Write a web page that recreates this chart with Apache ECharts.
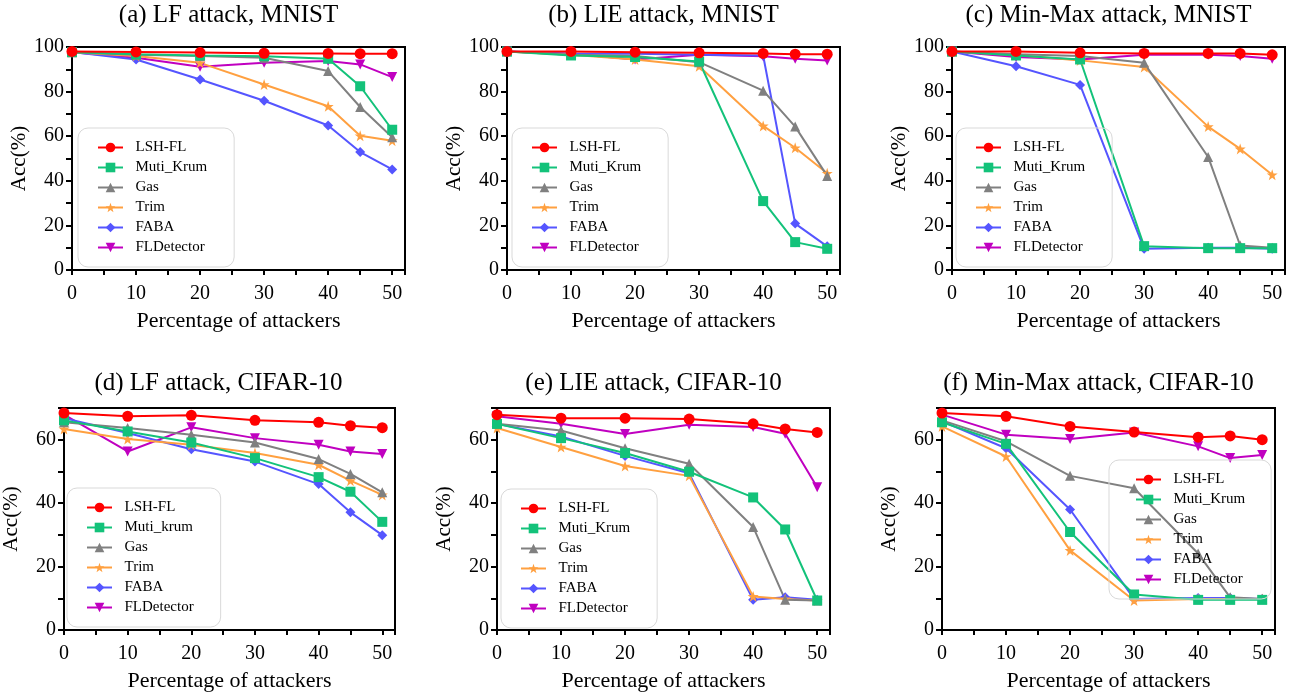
<!DOCTYPE html>
<html>
<head>
<meta charset="utf-8">
<script src="https://cdn.jsdelivr.net/npm/echarts@6/dist/echarts.min.js"></script>
<style>
  html, body { margin: 0; padding: 0; background: #fff; }
  #chart { width: 1308px; height: 700px; }
</style>
</head>
<body>
<div id="chart"></div>
<script>
// x positions (percentage of attackers)
const xVals = [0, 10, 20, 30, 40, 45, 50];

// series names, in legend order
const names = ['LSH-FL', 'Muti_Krum', 'Gas', 'Trim', 'FABA', 'FLDetector'];
const namesLfCifar = ['LSH-FL', 'Muti_krum', 'Gas', 'Trim', 'FABA', 'FLDetector'];

// panel titles
const titles = [
    '(a) LF attack, MNIST', '(b) LIE attack, MNIST', '(c) Min-Max attack, MNIST',
    '(d) LF attack, CIFAR-10', '(e) LIE attack, CIFAR-10', '(f) Min-Max attack, CIFAR-10'
];

// accuracy values, one row per series (LSH-FL, Krum, Gas, Trim, FABA, FLDetector)
const lfMnist = [
    [98.0, 97.8, 97.5, 97.2, 97.1, 97.0, 97.0],
    [97.7, 96.7, 96.2, 95.9, 94.7, 82.4, 62.9],
    [97.7, 96.5, 96.0, 95.2, 89.2, 73.1, 59.5],
    [97.7, 96.0, 92.9, 83.2, 73.4, 60.2, 58.0],
    [97.7, 94.4, 85.4, 75.9, 64.8, 52.9, 45.1],
    [97.7, 95.2, 91.1, 92.9, 93.7, 92.2, 86.5]
];
const lieMnist = [
    [98.0, 98.0, 97.7, 97.4, 97.1, 96.8, 96.8],
    [98.0, 96.2, 95.5, 93.5, 30.9, 12.5, 9.5],
    [98.0, 96.5, 96.0, 93.2, 80.4, 64.3, 42.2],
    [98.0, 96.5, 94.4, 91.4, 64.6, 54.8, 43.4],
    [98.0, 97.0, 97.0, 96.5, 96.2, 20.8, 10.6],
    [98.0, 97.0, 94.4, 96.5, 95.8, 94.7, 94.0]
];
const mmMnist = [
    [98.0, 98.0, 97.4, 97.1, 97.1, 97.1, 96.5],
    [98.0, 96.2, 94.4, 10.7, 9.8, 9.8, 9.8],
    [98.0, 96.7, 96.0, 92.9, 50.7, 11.0, 10.0],
    [98.0, 96.4, 94.0, 91.0, 64.3, 54.3, 42.7],
    [98.0, 91.4, 83.0, 9.5, 10.0, 10.0, 9.5],
    [98.0, 95.5, 94.4, 96.5, 96.5, 96.0, 94.7]
];
const lfCifar = [
    [68.4, 67.4, 67.7, 66.1, 65.5, 64.4, 63.8],
    [66.1, 62.6, 59.1, 54.2, 48.2, 43.6, 34.1],
    [65.5, 63.7, 61.6, 59.1, 53.9, 49.2, 43.4],
    [63.4, 60.2, 58.4, 55.8, 52.1, 47.1, 42.6],
    [66.8, 62.1, 57.0, 53.1, 46.0, 37.1, 29.9],
    [67.9, 56.3, 63.9, 60.5, 58.4, 56.3, 55.5]
];
const lieCifar = [
    [67.9, 66.8, 66.8, 66.5, 65.0, 63.4, 62.3],
    [65.0, 60.5, 55.8, 49.9, 41.8, 31.7, 9.3],
    [65.0, 62.9, 57.3, 52.4, 32.5, 9.5, 9.3],
    [63.7, 57.7, 51.7, 48.6, 10.6, 9.8, 9.3],
    [65.0, 61.0, 54.9, 49.4, 9.5, 10.3, 9.5],
    [67.4, 65.0, 61.8, 64.7, 64.0, 61.9, 45.0]
];
const mmCifar = [
    [68.4, 67.4, 64.2, 62.4, 60.8, 61.2, 60.0],
    [65.5, 58.7, 30.9, 11.2, 9.5, 9.5, 9.5],
    [66.1, 59.5, 48.6, 44.7, 24.1, 10.3, 9.8],
    [64.2, 54.7, 25.1, 9.3, 9.8, 9.8, 9.8],
    [65.8, 57.3, 38.0, 9.8, 10.1, 10.1, 9.8],
    [67.9, 61.6, 60.2, 62.3, 57.9, 54.2, 55.2]
];

const yMaxMnist = 100;
const yMaxCifar = 70;

const SERIF = 'Liberation Serif, Times New Roman, serif';
const colors = ['#ff0000', '#13c27a', '#808080', '#ffa040', '#5555ff', '#c000c0'];
const symbols = [
    'circle', 'rect', 'triangle',
    'path://M5,0 L6.2,3.6 L10,3.6 L7,5.9 L8.1,9.5 L5,7.3 L1.9,9.5 L3,5.9 L0,3.6 L3.8,3.6 Z',
    'diamond',
    'path://M0,0 L10,0 L5,9 Z'
];
const symSizes = [11, 10, 10, 11, 10, 10];

const panels = [
    {data: lfMnist, names: names, yMax: yMaxMnist, left: 72, top: 47, h: 223, leg: [78, 128, 19, 27]},
    {data: lieMnist, names: names, yMax: yMaxMnist, left: 507, top: 47, h: 223, leg: [512, 128, 19, 27]},
    {data: mmMnist, names: names, yMax: yMaxMnist, left: 952, top: 47, h: 223, leg: [956, 128, 19, 27]},
    {data: lfCifar, names: namesLfCifar, yMax: yMaxCifar, left: 62, top: 408, h: 222, leg: [67, 488, 19, 27]},
    {data: lieCifar, names: names, yMax: yMaxCifar, left: 497, top: 408, h: 222, leg: [501, 489, 19, 27]},
    {data: mmCifar, names: names, yMax: yMaxCifar, left: 942, top: 408, h: 222, leg: [1109, 460, 26, 26]}
];

const PLOT_W = 333;
const grids = [], xAxes = [], yAxes = [], legends = [], series = [], graphics = [];

panels.forEach(function (p, pi) {
    grids.push({
        left: p.left, top: p.top, width: PLOT_W, height: p.h,
        show: true, borderColor: '#000', borderWidth: 2
    });
    xAxes.push({
        gridIndex: pi, type: 'value', min: 0, max: 52, interval: 5,
        axisLine: {show: true, onZero: false, lineStyle: {color: '#000', width: 2}},
        axisTick: {show: true, length: 5, lineStyle: {color: '#000', width: 2}},
        axisLabel: {
            margin: 14, fontSize: 20, fontFamily: SERIF, color: '#000',
            formatter: function (v) { return (v % 10 === 0 && v <= 50) ? String(v) : ''; }
        },
        splitLine: {show: false},
        name: 'Percentage of attackers', nameLocation: 'middle', nameGap: 40,
        nameTextStyle: {fontSize: 22, fontFamily: SERIF, color: '#000'}
    });
    yAxes.push({
        gridIndex: pi, type: 'value', min: 0, max: p.yMax, interval: 10,
        axisLine: {show: true, onZero: false, lineStyle: {color: '#000', width: 2}},
        axisTick: {show: true, length: 6, lineStyle: {color: '#000', width: 2}},
        axisLabel: {
            margin: 8, fontSize: 20, fontFamily: SERIF, color: '#000',
            formatter: function (v) { return v % 20 === 0 ? String(v) : ''; }
        },
        splitLine: {show: false},
        name: 'Acc(%)', nameLocation: 'middle', nameGap: 42,
        nameTextStyle: {fontSize: 21, fontFamily: SERIF, color: '#000'}
    });
    legends.push({
        left: p.leg[0], top: p.leg[1], orient: 'vertical',
        data: p.names.slice(),
        itemWidth: 25, itemHeight: 12, itemGap: 5,
        padding: [12, p.leg[3], 12, p.leg[2]],
        borderColor: '#d9d9d9', borderWidth: 1, borderRadius: 10,
        backgroundColor: 'transparent',
        selectedMode: false,
        formatter: function (n) { return '\u2002' + n; },
        textStyle: {fontSize: 15, lineHeight: 15, fontFamily: SERIF, color: '#000'}
    });
    // draw LSH-FL last so it sits on top
    for (let s = p.names.length - 1; s >= 0; s--) {
        series.push({
            type: 'line', name: p.names[s],
            xAxisIndex: pi, yAxisIndex: pi,
            data: xVals.map(function (x, i) { return [x, p.data[s][i]]; }),
            symbol: symbols[s], symbolSize: symSizes[s],
            showAllSymbol: true, clip: false,
            lineStyle: {width: 2, color: colors[s]},
            itemStyle: {color: colors[s]},
            emphasis: {disabled: true}
        });
    }
    graphics.push({
        type: 'text',
        x: p.left + PLOT_W / 2 - 10,
        y: pi < 3 ? 15 : 383,
        style: {
            text: titles[pi], fill: '#000',
            font: '25px ' + SERIF,
            textAlign: 'center', textVerticalAlign: 'middle',
            align: 'center', verticalAlign: 'middle'
        }
    });
});

const chart = echarts.init(document.getElementById('chart'), null, {renderer: 'canvas'});
chart.setOption({
    animation: false,
    backgroundColor: '#fff',
    grid: grids,
    xAxis: xAxes,
    yAxis: yAxes,
    legend: legends,
    series: series,
    graphic: graphics
});
</script>
</body>
</html>
